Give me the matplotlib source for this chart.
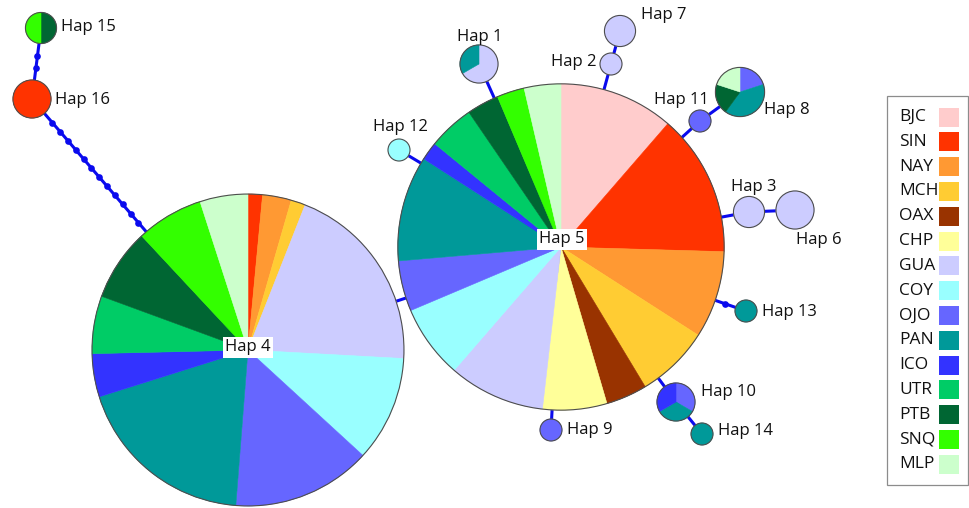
import numpy as np
import matplotlib.pyplot as plt
from matplotlib.patches import Circle, Rectangle

plt.rcParams['font.family'] = ['Open Sans', 'DejaVu Sans']

# sampling sites, in legend order, and their colours
populations = ['BJC', 'SIN', 'NAY', 'MCH', 'OAX', 'CHP', 'GUA', 'COY',
               'OJO', 'PAN', 'ICO', 'UTR', 'PTB', 'SNQ', 'MLP']
pop_colors = ['#ffcccc', '#ff3300', '#ff9933', '#ffcc33', '#993300',
              '#ffff99', '#ccccff', '#99ffff', '#6666ff', '#009999',
              '#3333ff', '#00cc66', '#006633', '#33ff00', '#ccffcc']

# individuals per haplotype and site
hap4_counts = {'SIN': 3, 'NAY': 6, 'MCH': 3, 'GUA': 40, 'COY': 22, 'OJO': 29,
               'PAN': 38, 'ICO': 9, 'UTR': 12, 'PTB': 15, 'SNQ': 14, 'MLP': 10}
hap5_counts = {'BJC': 25, 'SIN': 31, 'NAY': 19, 'MCH': 16, 'OAX': 9, 'CHP': 14,
               'GUA': 21, 'COY': 16, 'OJO': 11, 'PAN': 23, 'ICO': 4, 'UTR': 10,
               'PTB': 7, 'SNQ': 6, 'MLP': 8}
small_hap_counts = {
    'Hap 1': {'GUA': 2, 'PAN': 1},
    'Hap 2': {'GUA': 1},
    'Hap 3': {'GUA': 2},
    'Hap 6': {'GUA': 3},
    'Hap 7': {'GUA': 2},
    'Hap 8': {'OJO': 1, 'PAN': 2, 'PTB': 1, 'MLP': 1},
    'Hap 9': {'OJO': 1},
    'Hap 10': {'OJO': 1, 'PAN': 1, 'ICO': 1},
    'Hap 11': {'OJO': 1},
    'Hap 12': {'COY': 1},
    'Hap 13': {'PAN': 1},
    'Hap 14': {'PAN': 1},
    'Hap 15': {'PTB': 1, 'SNQ': 1},
    'Hap 16': {'SIN': 3},
}

# network links: (from, to, number of mutation steps drawn as dots)
links = [('Hap 15', 'Hap 16', 2), ('Hap 16', 'Hap 4', 12), ('Hap 4', 'Hap 5', 0),
         ('Hap 5', 'Hap 1', 0), ('Hap 5', 'Hap 2', 0), ('Hap 2', 'Hap 7', 0),
         ('Hap 5', 'Hap 11', 0), ('Hap 11', 'Hap 8', 0), ('Hap 5', 'Hap 3', 0),
         ('Hap 3', 'Hap 6', 0), ('Hap 5', 'Hap 13', 1), ('Hap 5', 'Hap 10', 0),
         ('Hap 10', 'Hap 14', 0), ('Hap 5', 'Hap 9', 0), ('Hap 5', 'Hap 12', 0)]

# layout (pixel space, y down)
node_xy = {'Hap 1': (479, 64), 'Hap 2': (611, 64), 'Hap 3': (749, 212),
           'Hap 4': (248, 350), 'Hap 5': (561, 247), 'Hap 6': (795, 210),
           'Hap 7': (620, 31), 'Hap 8': (740, 92), 'Hap 9': (551, 430),
           'Hap 10': (676, 402), 'Hap 11': (700, 121), 'Hap 12': (399, 150),
           'Hap 13': (746, 311), 'Hap 14': (702, 434), 'Hap 15': (41, 28),
           'Hap 16': (32, 99)}
label_xy = {'Hap 1': (480, 37, 'center'), 'Hap 2': (597, 62, 'right'),
            'Hap 3': (731, 187, 'left'), 'Hap 4': (248, 347, 'center'),
            'Hap 5': (562, 239, 'center'), 'Hap 6': (796, 240, 'left'),
            'Hap 7': (641, 15, 'left'), 'Hap 8': (764, 110, 'left'),
            'Hap 9': (567, 430, 'left'), 'Hap 10': (701, 392, 'left'),
            'Hap 11': (709, 100, 'right'), 'Hap 12': (400, 127, 'center'),
            'Hap 13': (762, 312, 'left'), 'Hap 14': (718, 431, 'left'),
            'Hap 15': (61, 27, 'left'), 'Hap 16': (55, 100, 'left')}
px_per_sqrt = 11.0  # circle area proportional to sample size
line_blue = '#0a0aee'
edge_grey = '#4d4d4d'

color_of = dict(zip(populations, pop_colors))
hap_counts = {'Hap 4': hap4_counts, 'Hap 5': hap5_counts, **small_hap_counts}
radius = {h: px_per_sqrt * np.sqrt(sum(c.values())) for h, c in hap_counts.items()}

fig = plt.figure(figsize=(9.7, 5.08), dpi=100)
ax = fig.add_axes([0, 0, 1, 1])

# links and mutation steps
for a, b, steps in links:
    (xa, ya), (xb, yb) = node_xy[a], node_xy[b]
    ax.plot([xa, xb], [ya, yb], color=line_blue, lw=2.2, zorder=1,
            solid_capstyle='butt')
    if steps:
        d = np.hypot(xb - xa, yb - ya)
        ra, rb = radius[a], radius[b]
        t = (ra + (d - ra - rb) * np.arange(1, steps + 1) / (steps + 1)) / d
        ax.plot(xa + t * (xb - xa), ya + t * (yb - ya), 'o', color=line_blue,
                ms=4.8, mew=0, zorder=1.5)

# haplotype pies, clockwise from 12 o'clock (y axis is flipped below)
for hap, counts in hap_counts.items():
    x, y = node_xy[hap]
    r = radius[hap]
    wedges, _ = ax.pie(list(counts.values()), colors=[color_of[p] for p in counts],
                       center=(x, y), radius=r, startangle=-90, counterclock=True,
                       wedgeprops=dict(linewidth=0.4, zorder=3))
    for w in wedges:
        w.set_edgecolor(w.get_facecolor())
    ax.add_patch(Circle((x, y), r, fill=False, ec=edge_grey, lw=0.8, zorder=4))

for hap, (lx, ly, ha) in label_xy.items():
    box = None
    if hap in ('Hap 4', 'Hap 5'):
        box = dict(boxstyle='square,pad=0.15', fc='white', ec='none')
    ax.text(lx, ly, hap, fontsize=12, ha=ha, va='center', color='#111111',
            bbox=box, zorder=6)

# legend
ax.add_patch(Rectangle((887, 96), 81, 389, fill=False, ec='#8c8c8c', lw=0.9,
                       zorder=5))
for i, (pop, col) in enumerate(zip(populations, pop_colors)):
    yc = 117 + i * 24.8
    ax.text(899, yc, pop, fontsize=12.5, ha='left', va='center', color='#111111',
            zorder=6)
    ax.add_patch(Rectangle((939, yc - 9.5), 20, 19, fc=col, ec='none', zorder=6))

ax.set_xlim(0, 970)
ax.set_ylim(508, 0)
ax.set_aspect('equal')
ax.axis('off')

fig.savefig('out.png', dpi=100)
